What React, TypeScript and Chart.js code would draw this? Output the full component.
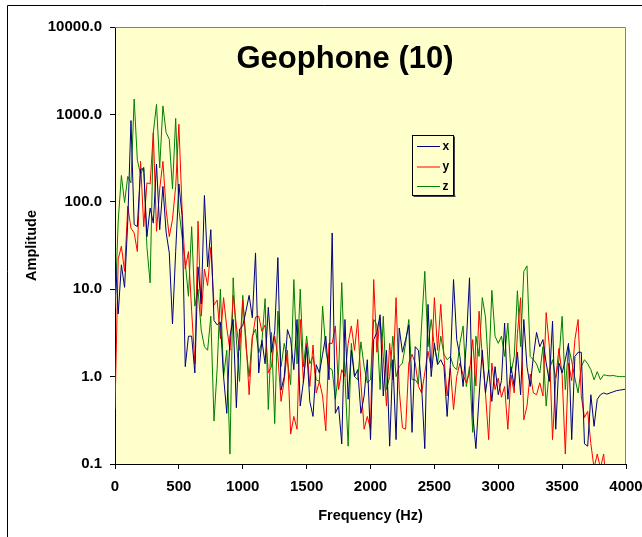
import React, { useEffect, useRef } from "react";
import { Chart, registerables } from "chart.js";

Chart.register(...registerables);

const FREQUENCY_HZ = [
  0, 25, 50, 75, 100, 125, 150, 175, 200, 225,
  250, 275, 300, 325, 350, 375, 400, 425, 450, 475,
  500, 525, 550, 575, 600, 625, 650, 675, 700, 725,
  750, 775, 800, 825, 850, 875, 900, 925, 950, 975,
  1000, 1025, 1050, 1075, 1100, 1125, 1150, 1175, 1200, 1225,
  1250, 1275, 1300, 1325, 1350, 1375, 1400, 1425, 1450, 1475,
  1500, 1525, 1550, 1575, 1600, 1625, 1650, 1675, 1700, 1725,
  1750, 1775, 1800, 1825, 1850, 1875, 1900, 1925, 1950, 1975,
  2000, 2025, 2050, 2075, 2100, 2125, 2150, 2175, 2200, 2225,
  2250, 2275, 2300, 2325, 2350, 2375, 2400, 2425, 2450, 2475,
  2500, 2525, 2550, 2575, 2600, 2625, 2650, 2675, 2700, 2725,
  2750, 2775, 2800, 2825, 2850, 2875, 2900, 2925, 2950, 2975,
  3000, 3025, 3050, 3075, 3100, 3125, 3150, 3175, 3200, 3225,
  3250, 3275, 3300, 3325, 3350, 3375, 3400, 3425, 3450, 3475,
  3500, 3525, 3550, 3575, 3600, 3625, 3650, 3675, 3700, 3725,
  3750, 3775, 3800, 3825, 3850, 3875, 3900, 3925, 3950, 3975,
  4000,
];

const X_AMPLITUDE = [
  27, 5.2, 19, 10.5, 60, 850, 55, 52, 235, 240,
  40, 85, 57, 270, 48, 150, 45, 26, 4.0, 27,
  160, 70, 1.3, 2.9, 2.9, 1.1, 18, 6.8, 118, 18,
  48, 4.4, 3.9, 4.2, 1.0, 0.38, 2.9, 4.5, 0.44, 3.5,
  3.8, 5.6, 8.5, 4.7, 26, 1.1, 2.6, 1.4, 6.2, 1.9,
  3.3, 23, 0.7, 1.0, 3.45, 2.65, 1.2, 4.5, 0.46, 0.88,
  2.2, 0.52, 0.35, 1.37, 1.1, 1.8, 2.9, 0.92, 44, 0.38,
  0.46, 0.17, 4.5, 0.55, 2.0, 1.0, 1.2, 0.38, 0.6, 1.56,
  0.19, 2.65, 3.2, 5.1, 0.6, 2.0, 0.16, 1.56, 0.19, 3.6,
  1.9, 2.65, 3.9, 0.23, 2.2, 2.0, 0.78, 0.15, 6.7, 1.0,
  2.4, 1.37, 1.56, 1.3, 0.35, 1.37, 12.9, 2.65, 1.7, 0.77,
  2.4, 13.5, 0.38, 0.15, 0.6, 2.0, 0.65, 1.2, 0.52, 1.3,
  0.62, 0.9, 4.1, 0.55, 1.3, 0.77, 1.9, 0.62, 4.5, 1.3,
  0.77, 1.7, 3.2, 2.2, 2.65, 1.43, 0.88, 4.3, 0.25, 1.43,
  1.1, 1.56, 2.4, 0.19, 1.7, 1.9, 1.9, 0.17, 0.16, 0.62,
  0.27, 0.55, 0.62, 0.65, 0.63, 0.65, 0.67, 0.69, 0.7, 0.71,
  0.72,
];

const Y_AMPLITUDE = [
  0.42, 22, 31, 16, 89, 50, 44, 27, 290, 52,
  165, 160, 620, 46, 140, 290, 82, 40, 63, 150,
  770, 82, 17, 27, 5.6, 1.4, 60, 4.9, 17, 11,
  30, 6.6, 7.5, 2.7, 8, 3.6, 2.0, 8.5, 3.8, 2.0,
  7.5, 2.7, 0.62, 2.7, 4.8, 4.9, 3.3, 3.9, 1.1, 1.3,
  2.9, 1.7, 0.52, 0.92, 2.0, 0.22, 0.35, 0.25, 4.5, 0.85,
  2.4, 0.77, 2.3, 0.65, 0.88, 0.6, 0.24, 2.4, 2.4, 3.8,
  0.71, 1.2, 1.0, 2.4, 3.8, 2.0, 4.5, 0.85, 0.25, 0.35,
  0.25, 12.9, 1.9, 4.7, 1.7, 0.46, 2.4, 0.92, 8.0, 0.71,
  0.26, 0.25, 1.43, 1.8, 1.43, 0.78, 0.65, 1.1, 1.95, 1.25,
  8, 2.0, 6.7, 1.7, 0.6, 1.25, 0.42, 1.0, 1.43, 1.04,
  0.85, 1.1, 2.65, 0.78, 5.6, 1.7, 0.65, 0.19, 1.43, 0.71,
  0.96, 0.58, 0.77, 0.25, 1.04, 0.65, 3.1, 8, 0.32, 0.46,
  1.07, 0.65, 0.62, 0.85, 0.6, 5.4, 2.2, 0.19, 0.96, 2.1,
  1.04, 0.13, 1.43, 0.9, 2.65, 4.5, 0.6, 0.34, 0.4, 0.17,
  0.09, 0.13, 0.09, 0.13, 0.05, 0.04, 0.05, 0.04, 0.05, 0.04,
  0.05,
];

const Z_AMPLITUDE = [
  6, 60, 200, 98, 195, 165, 1500, 300, 205, 250,
  30, 11.8, 620, 1300, 245, 1250, 620, 520, 140, 900,
  82, 40, 20, 8.3, 52, 6.4, 10, 3.4, 2.2, 2.0,
  4.9, 0.31, 1.25, 10, 1.0, 2.0, 0.13, 13.5, 2.65, 0.88,
  8.5, 2.2, 1.0, 2.9, 3.5, 1.87, 2.5, 7.8, 0.42, 3.2,
  0.29, 5.6, 1.3, 2.4, 1.5, 0.81, 12.9, 1.4, 10, 1.3,
  2.9, 1.4, 1.7, 0.92, 0.88, 6.4, 2.0, 1.26, 1.2, 0.55,
  1.1, 11.9, 1.0, 0.16, 2.4, 1.0, 0.92, 2.5, 1.3, 0.85,
  0.92, 4.5, 3.9, 0.71, 4.9, 0.71, 1.0, 2.9, 1.0, 1.3,
  1.43, 2.4, 4.5, 0.92, 0.92, 0.82, 3.9, 16, 2.2, 4.5,
  2.2, 1.43, 2.9, 1.8, 1.56, 1.7, 1.3, 1.2, 2.4, 3.8,
  0.77, 1.3, 0.23, 2.9, 1.7, 8, 4.8, 1.1, 9.7, 2.9,
  2.4, 2.9, 1.7, 4.1, 1.1, 1.7, 9.6, 2.2, 16, 18.5,
  1.7, 1.56, 1.4, 1.1, 2.2, 0.46, 1.2, 1.56, 0.96, 1.56,
  4.9, 0.71, 2.2, 1.5, 0.96, 0.65, 1.3, 1.56, 1.4, 1.2,
  0.92, 1.14, 0.92, 1.05, 1.03, 1.02, 1.03, 1.01, 1.0, 1.0,
  1.0,
];

const SERIES_LABELS = ["x", "y", "z"];
const SERIES_COLORS = ["#000080", "#FF0000", "#008000"];
const Y_TICKS = [0.1, 1, 10, 100, 1000, 10000];
const X_TICKS = [0, 500, 1000, 1500, 2000, 2500, 3000, 3500, 4000];
const TITLE = "Geophone (10)";
const X_TITLE = "Frequency (Hz)";
const Y_TITLE = "Amplitude";

const FONT = '"Liberation Sans", Arial, Helvetica, sans-serif';
const PLOT_BG = "#FFFFCC";

const decorPlugin = {
  id: "decor",
  beforeDraw(chart: any) {
    const { ctx, chartArea: a, width, height } = chart;
    ctx.save();
    ctx.fillStyle = "#ffffff";
    ctx.fillRect(0, 0, width, height);
    ctx.strokeStyle = "#000000";
    ctx.lineWidth = 1;
    ctx.beginPath();
    ctx.moveTo(7.5, height);
    ctx.lineTo(7.5, 5.5);
    ctx.lineTo(width, 5.5);
    ctx.stroke();
    ctx.fillStyle = PLOT_BG;
    ctx.fillRect(a.left, a.top, a.right - a.left, a.bottom - a.top);
    ctx.restore();
  },
  afterDraw(chart: any) {
    const { ctx, chartArea: a } = chart;
    ctx.save();
    // gray top/right frame of plot area
    ctx.strokeStyle = "#808080";
    ctx.lineWidth = 1;
    ctx.beginPath();
    ctx.moveTo(a.left, a.top + 0.5);
    ctx.lineTo(a.right - 0.5, a.top + 0.5);
    ctx.lineTo(a.right - 0.5, a.bottom);
    ctx.stroke();

    // title
    ctx.fillStyle = "#000000";
    ctx.font = `bold 31px ${FONT}`;
    ctx.textAlign = "center";
    ctx.textBaseline = "alphabetic";
    ctx.fillText(TITLE, 345, 68);

    // x axis title
    ctx.font = `bold 14.5px ${FONT}`;
    ctx.fillText(X_TITLE, (a.left + a.right) / 2, 519.5);

    // y axis title
    ctx.save();
    ctx.translate(36, (a.top + a.bottom) / 2);
    ctx.rotate(-Math.PI / 2);
    ctx.textAlign = "center";
    ctx.fillText(Y_TITLE, 0, 0);
    ctx.restore();

    // legend
    const lx = 412.5, ly = 135.5, lw = 41, lh = 60;
    ctx.fillStyle = "#404040";
    ctx.fillRect(lx + 1, ly + lh, lw + 1, 1.5);
    ctx.fillRect(lx + lw, ly + 1, 1.5, lh + 0.5);
    ctx.fillStyle = PLOT_BG;
    ctx.fillRect(lx, ly, lw, lh);
    ctx.strokeStyle = "#000000";
    ctx.lineWidth = 1;
    ctx.strokeRect(lx, ly, lw, lh);
    const rows = [146, 166.5, 186];
    chart.data.datasets.forEach((ds: any, i: number) => {
      const y = rows[i];
      ctx.strokeStyle = ds.borderColor;
      ctx.lineWidth = 1;
      ctx.beginPath();
      ctx.moveTo(417, y + 0.5);
      ctx.lineTo(440, y + 0.5);
      ctx.stroke();
      ctx.fillStyle = "#000000";
      ctx.font = `bold 12px ${FONT}`;
      ctx.textAlign = "left";
      ctx.textBaseline = "middle";
      ctx.fillText(ds.label, 442.5, y + 0.5);
    });
    ctx.restore();
  },
};

export default function App() {
  const canvasRef = useRef<HTMLCanvasElement | null>(null);

  useEffect(() => {
    const canvas = canvasRef.current;
    if (!canvas) return;
    const amps = [X_AMPLITUDE, Y_AMPLITUDE, Z_AMPLITUDE];
    const chart = new Chart(canvas, {
      type: "line",
      data: {
        datasets: amps.map((arr, i) => ({
          label: SERIES_LABELS[i],
          data: FREQUENCY_HZ.map((f, j) => ({ x: f, y: arr[j] })),
          borderColor: SERIES_COLORS[i],
          backgroundColor: SERIES_COLORS[i],
          borderWidth: 1,
          pointRadius: 0,
          pointHoverRadius: 0,
          tension: 0,
          fill: false,
        })),
      },
      options: {
        animation: false,
        responsive: false,
        devicePixelRatio: 1,
        events: [],
        layout: { padding: { left: 0, top: 27, right: 16, bottom: 0 } },
        plugins: {
          legend: { display: false },
          tooltip: { enabled: false },
          title: { display: false },
        },
        scales: {
          x: {
            type: "linear",
            min: 0,
            max: 4000,
            afterBuildTicks: (scale: any) => {
              scale.ticks = X_TICKS.map((v) => ({ value: v }));
            },
            afterFit: (scale: any) => {
              scale.height = 73;
              scale.paddingLeft = 0;
              scale.paddingRight = 0;
            },
            ticks: {
              autoSkip: false,
              maxRotation: 0,
              padding: 9,
              color: "#000000",
              font: { family: FONT, size: 15, weight: "bold" },
              callback: (v: any) => String(v),
            },
            grid: {
              drawOnChartArea: false,
              drawTicks: true,
              tickLength: 5,
              color: "#000000",
            },
            border: { color: "#000000", width: 1 },
          },
          y: {
            type: "logarithmic",
            min: 0.1,
            max: 10000,
            afterBuildTicks: (scale: any) => {
              scale.ticks = Y_TICKS.map((v) => ({ value: v, major: true }));
            },
            afterFit: (scale: any) => {
              scale.width = 115;
            },
            ticks: {
              autoSkip: false,
              padding: 8,
              color: "#000000",
              font: { family: FONT, size: 15, weight: "bold" },
              callback: (v: any) => Number(v).toFixed(1),
            },
            grid: {
              drawOnChartArea: false,
              drawTicks: true,
              tickLength: 5,
              color: "#000000",
            },
            border: { color: "#000000", width: 1 },
          },
        },
      },
      plugins: [decorPlugin],
    });
    return () => chart.destroy();
  }, []);

  return (
    <div style={{ position: "fixed", left: 0, top: 0, width: 642, height: 537, background: "#ffffff" }}>
      <canvas ref={canvasRef} width={642} height={537} style={{ width: 642, height: 537, display: "block" }} />
    </div>
  );
}
